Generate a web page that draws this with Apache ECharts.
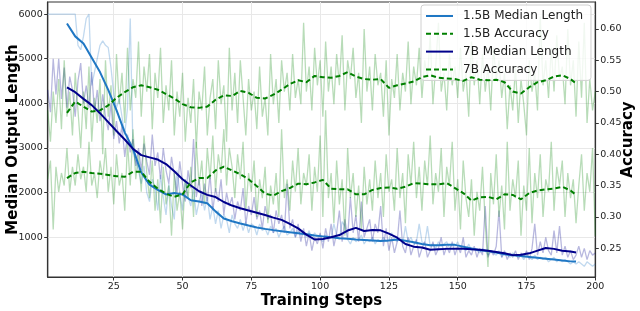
<!DOCTYPE html>
<html><head><meta charset="utf-8">
<script src="https://cdn.jsdelivr.net/npm/echarts@6/dist/echarts.min.js"></script>
<style>html,body{margin:0;padding:0;background:#fff}#c{width:640px;height:311px}</style>
</head><body><div id="c"></div>
<script>
// ---- tick labels ----
const xTicks = [25, 50, 75, 100, 125, 150, 175, 200];
const lenTicks = [1000, 2000, 3000, 4000, 5000, 6000];
const accTicks = [0.25, 0.30, 0.35, 0.40, 0.45, 0.50, 0.55, 0.60];

// ---- raw per-step values (steps 1..200) ----
const raw15Len = [
6000,6000,6000,6000,6000,6000,6000,6000,6000,6000,
6000,5300,5200,5500,5900,6000,4400,4700,5000,5300,
5400,5300,5250,4800,4200,3900,4100,3700,3300,3900,
5900,2900,2700,2500,2200,2600,2000,1800,2300,2100,
1600,2400,1900,1500,2200,1700,1400,2500,2000,1600,
2300,1900,1700,2100,1500,1800,2000,1600,1900,1400,
1700,1300,1600,1200,1500,1400,1100,1500,1300,1200,
1400,1150,1350,1100,1300,1250,1050,1300,1150,1200,
1050,1250,1100,1200,1000,1150,1250,1050,1100,1200,
1000,1150,1050,1100,1000,1150,950,1100,1000,1050,
900,1050,980,1000,1300,1050,950,1350,1250,950,
850,1000,900,950,1050,850,950,900,1000,850,
950,900,1000,900,950,1100,950,900,1000,850,
1250,900,1000,850,900,1300,900,850,1250,800,
850,750,900,800,850,900,750,850,800,900,
750,800,700,850,700,750,700,650,750,700,
600,700,650,600,700,550,650,600,550,650,
600,550,600,500,600,550,500,600,500,550,
500,550,450,500,550,450,500,450,500,450,
400,450,400,450,400,350,450,400,350,400];
const raw7Len = [
4300,3800,5000,4200,5000,4100,4800,3900,4600,4300,
3700,4500,4900,4000,4400,3900,4700,3800,4300,3600,
4200,3700,3400,4000,3200,3600,3100,3500,2800,3300,
2900,3200,2600,3000,2500,3100,2700,2400,3300,2600,
2900,2300,3000,2500,2200,2800,2400,2000,2700,2200,
1800,2500,2100,3200,1900,2300,1700,2200,1800,2400,
1600,2100,1800,2300,1500,2000,1700,1900,1400,1800,
1600,2100,1300,1700,1500,1900,1400,1600,1200,1700,
1400,1500,1100,1600,1300,1500,1100,2200,1200,1400,
1000,1300,900,1200,800,1100,700,1000,850,1100,
750,1200,900,1300,800,1100,1600,900,1400,1000,
1900,1100,1500,900,1800,1000,1200,1400,900,1300,
1100,1700,800,1200,700,1000,650,900,1600,800,
650,1000,600,800,950,550,750,900,550,700,
900,600,750,1000,600,800,650,900,600,800,
650,1000,550,700,600,800,550,750,600,1700,
550,700,600,800,1600,550,700,500,650,550,
700,500,650,550,700,500,750,1300,600,900,
650,1000,700,600,1150,650,1250,600,800,550,
700,500,600,800,550,750,500,700,600,650];
const raw15Acc = [
0.47,0.42,0.50,0.45,0.52,0.44,0.55,0.46,0.50,0.43,
0.53,0.47,0.41,0.50,0.44,0.54,0.42,0.49,0.45,0.52,
0.40,0.55,0.46,0.51,0.43,0.56,0.48,0.53,0.45,0.57,
0.47,0.52,0.49,0.58,0.46,0.54,0.50,0.56,0.44,0.53,
0.49,0.57,0.45,0.51,0.47,0.55,0.43,0.50,0.46,0.53,
0.42,0.49,0.45,0.52,0.41,0.50,0.47,0.54,0.43,0.49,
0.52,0.44,0.55,0.48,0.51,0.42,0.57,0.47,0.53,0.45,
0.55,0.49,0.43,0.52,0.47,0.50,0.44,0.54,0.46,0.49,
0.43,0.56,0.48,0.52,0.45,0.55,0.50,0.53,0.47,0.56,
0.49,0.52,0.48,0.61,0.50,0.54,0.47,0.57,0.51,0.55,
0.46,0.58,0.50,0.54,0.48,0.56,0.51,0.59,0.47,0.55,
0.52,0.57,0.49,0.53,0.45,0.60,0.50,0.54,0.47,0.56,
0.51,0.53,0.46,0.55,0.43,0.52,0.49,0.56,0.47,0.53,
0.50,0.58,0.48,0.54,0.51,0.57,0.49,0.55,0.52,0.59,
0.48,0.54,0.61,0.50,0.53,0.47,0.56,0.51,0.54,0.49,
0.57,0.50,0.53,0.46,0.58,0.51,0.55,0.48,0.56,0.50,
0.54,0.47,0.57,0.52,0.55,0.49,0.53,0.44,0.51,0.47,
0.54,0.45,0.52,0.48,0.43,0.55,0.50,0.53,0.47,0.62,
0.51,0.55,0.49,0.57,0.50,0.59,0.52,0.54,0.48,0.60,
0.51,0.55,0.46,0.58,0.49,0.61,0.45,0.52,0.47,0.50];
const raw7Acc = [
0.36,0.39,0.28,0.38,0.34,0.37,0.35,0.41,0.34,0.38,
0.35,0.40,0.36,0.38,0.34,0.42,0.35,0.37,0.33,0.39,
0.36,0.41,0.34,0.38,0.32,0.40,0.35,0.37,0.31,0.42,
0.35,0.44,0.36,0.40,0.34,0.43,0.37,0.33,0.39,0.31,
0.36,0.29,0.38,0.32,0.35,0.27,0.37,0.31,0.34,0.28,
0.36,0.33,0.38,0.30,0.42,0.35,0.39,0.32,0.41,0.36,
0.43,0.34,0.40,0.37,0.44,0.35,0.41,0.38,0.33,0.40,
0.36,0.42,0.31,0.37,0.34,0.39,0.30,0.36,0.33,0.38,
0.29,0.35,0.32,0.37,0.30,0.44,0.33,0.36,0.31,0.39,
0.34,0.41,0.32,0.37,0.35,0.40,0.31,0.38,0.34,0.43,
0.30,0.47,0.33,0.37,0.29,0.39,0.32,0.36,0.27,0.41,
0.33,0.37,0.30,0.35,0.28,0.38,0.32,0.36,0.31,0.39,
0.33,0.37,0.30,0.40,0.34,0.36,0.31,0.41,0.33,0.37,
0.29,0.40,0.35,0.42,0.33,0.38,0.31,0.39,0.35,0.43,
0.32,0.37,0.34,0.41,0.30,0.38,0.35,0.42,0.31,0.36,
0.28,0.39,0.33,0.30,0.36,0.27,0.34,0.31,0.38,0.29,
0.22,0.37,0.32,0.40,0.30,0.35,0.28,0.42,0.31,0.36,
0.33,0.39,0.27,0.35,0.31,0.41,0.29,0.37,0.33,0.40,
0.30,0.36,0.34,0.42,0.31,0.38,0.35,0.39,0.30,0.37,
0.33,0.36,0.29,0.35,0.40,0.31,0.37,0.34,0.41,0.27];

// ---- smoothed curves (read at these steps) ----
const smoothSteps = [8,11,14,17,20,23,26,29,32,35,38,41,44,47,50,53,56,59,62,65,68,71,74,77,80,83,86,89,92,95,98,101,104,107,110,113,116,119,122,125,128,131,134,137,140,143,146,149,152,155,158,161,164,167,170,173,176,179,182,185,188,191,193];
const sm15Len = [5790,5500,5340,5020,4700,4300,3850,3350,2980,2450,2180,2060,1960,1990,1960,1830,1800,1760,1580,1420,1360,1310,1262,1220,1188,1160,1135,1110,1090,1070,1040,1020,1000,980,965,950,940,930,915,930,950,920,890,850,820,820,830,830,790,750,710,690,660,620,595,580,560,540,520,500,480,460,455];
const sm7Len = [4360,4250,4100,3960,3780,3580,3380,3190,2980,2840,2790,2740,2640,2480,2300,2160,2030,1950,1900,1790,1710,1650,1600,1550,1500,1440,1390,1300,1200,1060,950,960,1000,1050,1150,1210,1140,1165,1155,1080,990,850,790,770,720,730,740,745,745,730,720,700,670,640,600,610,640,700,760,740,700,680,660];
const sm15Acc = [0.466,0.484,0.476,0.468,0.470,0.478,0.490,0.499,0.507,0.510,0.507,0.503,0.496,0.489,0.480,0.475,0.474,0.476,0.487,0.494,0.493,0.501,0.498,0.490,0.489,0.495,0.503,0.512,0.518,0.515,0.525,0.523,0.522,0.525,0.531,0.524,0.520,0.519,0.520,0.506,0.510,0.513,0.516,0.523,0.526,0.522,0.521,0.520,0.517,0.523,0.519,0.518,0.519,0.515,0.500,0.497,0.507,0.515,0.518,0.524,0.526,0.520,0.513];
const sm7Acc = [0.362,0.370,0.372,0.370,0.369,0.367,0.365,0.364,0.372,0.372,0.356,0.345,0.337,0.332,0.336,0.355,0.362,0.362,0.374,0.380,0.374,0.368,0.360,0.349,0.337,0.334,0.341,0.346,0.353,0.352,0.355,0.359,0.345,0.344,0.344,0.336,0.336,0.343,0.346,0.347,0.345,0.348,0.354,0.353,0.352,0.352,0.354,0.346,0.338,0.326,0.331,0.332,0.328,0.336,0.335,0.328,0.338,0.342,0.344,0.345,0.348,0.342,0.335];

const names = ['1.5B Median Length', '1.5B Accuracy', '7B Median Length', '7B Accuracy'];

const steps = raw15Len.map((_, i) => i + 1);
const pairs = (xs, ys) => ys.map((y, i) => [xs[i], y]);

const C15 = '#1f77c4', C7 = '#00008b', CG = '#008000';
const FONT = 'DejaVu Sans';

function rawSeries(name, data, color, yIdx) {
  return { name, type: 'line', yAxisIndex: yIdx, data: pairs(steps, data), showSymbol: false, symbol: 'none',
    lineStyle: { color, width: 1.3, opacity: 0.28 }, itemStyle: { color }, silent: true, z: 2 };
}
function smoothSeries(name, data, color, yIdx, dashed) {
  return { name, type: 'line', yAxisIndex: yIdx, data: pairs(smoothSteps, data), showSymbol: false, symbol: 'none',
    lineStyle: { color, width: 2, type: dashed ? [5, 3] : 'solid' }, itemStyle: { color }, z: 5 };
}

const chart = echarts.init(document.getElementById('c'), null, { renderer: 'canvas' });
chart.setOption({
  animation: false,
  backgroundColor: '#fff',
  grid: { left: 47.7, right: 44.7, top: 2, bottom: 34, containLabel: false, outerBoundsMode: 'none',
    show: true, borderColor: '#333', borderWidth: 1.2, backgroundColor: 'transparent' },
  legend: {
    data: names.map(n => ({ name: n })),
    orient: 'vertical', left: 421, top: 5, padding: [5, 8, 5, 4],
    itemWidth: 27, itemHeight: 12, itemGap: 5.8,
    itemStyle: { opacity: 0 },
    backgroundColor: 'rgba(255,255,255,0.8)', borderColor: '#d0d0d0', borderWidth: 1, borderRadius: 3,
    textStyle: { fontFamily: FONT, fontSize: 12, color: '#222', padding: [0, 0, 0, 5] }
  },
  xAxis: {
    type: 'value', min: 1, max: 200,
    name: 'Training Steps', nameLocation: 'middle', nameGap: 16.5, nameMoveOverlap: false,
    nameTextStyle: { fontFamily: FONT, fontWeight: 'bold', fontSize: 15, color: '#000', verticalAlign: 'top' },
    axisLine: { show: true, onZero: false, lineStyle: { color: '#333', width: 1.2 } },
    axisTick: { show: true, customValues: xTicks, length: 3.5, lineStyle: { color: '#333' } },
    axisLabel: { customValues: xTicks, fontFamily: FONT, fontSize: 9.5, color: '#222', margin: 5, hideOverlap: false,
      formatter: v => String(v) },
    splitLine: { show: true, lineStyle: { color: '#e8e8e8', width: 1 } }
  },
  yAxis: [{
    type: 'value', min: 110, max: 6270, position: 'left',
    name: 'Median Output Length', nameLocation: 'middle', nameGap: 27, nameRotate: 90, nameMoveOverlap: false,
    nameTextStyle: { fontFamily: FONT, fontWeight: 'bold', fontSize: 15, color: '#000' },
    axisLine: { show: true, lineStyle: { color: '#333', width: 1.2 } },
    axisTick: { show: true, customValues: lenTicks, length: 3.5, lineStyle: { color: '#333' } },
    axisLabel: { customValues: lenTicks, fontFamily: FONT, fontSize: 9.5, color: '#222', margin: 5, hideOverlap: false,
      formatter: v => String(v) },
    splitLine: { show: true, lineStyle: { color: '#e8e8e8', width: 1 } }
  }, {
    type: 'value', min: 0.204, max: 0.643, position: 'right',
    name: 'Accuracy', nameLocation: 'middle', nameGap: 25, nameRotate: 90, nameMoveOverlap: false,
    nameTextStyle: { fontFamily: FONT, fontWeight: 'bold', fontSize: 15, color: '#000' },
    axisLine: { show: true, lineStyle: { color: '#333', width: 1.2 } },
    axisTick: { show: true, customValues: accTicks, length: 3.5, lineStyle: { color: '#333' } },
    axisLabel: { customValues: accTicks, fontFamily: FONT, fontSize: 9.5, color: '#222', margin: 5, hideOverlap: false,
      formatter: v => v.toFixed(2) },
    splitLine: { show: false }
  }],
  series: [
    rawSeries('raw15Len', raw15Len, C15, 0),
    rawSeries('raw7Len', raw7Len, C7, 0),
    rawSeries('raw15Acc', raw15Acc, CG, 1),
    rawSeries('raw7Acc', raw7Acc, CG, 1),
    smoothSeries(names[0], sm15Len, C15, 0, false),
    smoothSeries(names[1], sm15Acc, CG, 1, true),
    smoothSeries(names[2], sm7Len, C7, 0, false),
    smoothSeries(names[3], sm7Acc, CG, 1, true)
  ]
});
</script></body></html>
